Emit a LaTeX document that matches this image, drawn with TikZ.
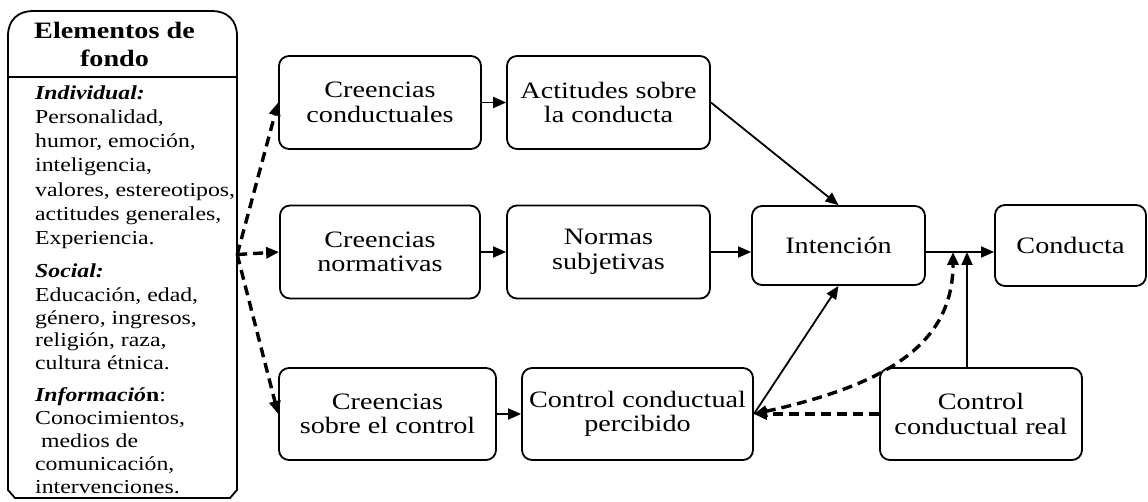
\documentclass[tikz,border=0pt]{standalone}
\usepackage{fontspec}
\setmainfont[FakeStretch=1.2]{Liberation Serif}
\usetikzlibrary{arrows.meta}
\tikzset{
  mbox/.style={draw, line width=1.8pt, rounded corners=10pt, align=center, inner sep=0pt,
    font=\fontsize{23.5}{24.5}\selectfont},
  ptext/.style={anchor=base west, inner sep=0pt, font=\fontsize{19.8}{22}\selectfont},
  tip/.style={-{Triangle[length=13pt,width=11pt]}},
  solidarrow/.style={tip, line width=1.8pt},
  dasharrow/.style={tip, line width=3.4pt, dash pattern=on 10pt off 6pt},
}
\begin{document}
\begin{tikzpicture}[x=1pt,y=-1pt]
\useasboundingbox (0,0) rectangle (1148,502);
% left panel
\node[minimum width=229pt, minimum height=487pt, inner sep=0pt] (panel) at (122.5,254.5) {};
\draw[line width=1.8pt] (15,498) -- (8,490) -- (8,36) .. controls (8,20) and (18,11) .. (33,11)
  -- (212,11) .. controls (227,11) and (237,20) .. (237,36) -- (237,490) -- (230,498) -- cycle;
\draw[line width=1.8pt] (8,77) -- (237,77);
\node[anchor=base, inner sep=0pt, font=\fontsize{23.5}{28}\selectfont\bfseries] (t1) at (114.5,39) {Elementos de};
\node[anchor=base, inner sep=0pt, font=\fontsize{23.5}{28}\selectfont\bfseries] (t2) at (114.5,67) {fondo};
\foreach \t/\yy [count=\i] in {
  {\textbf{\textit{Individual:}}}/100,
  {Personalidad,}/124,
  {humor, emoción,}/148,
  {inteligencia,}/172,
  {valores, estereotipos,}/197,
  {actitudes generales,}/221,
  {Experiencia.}/245,
  {\textbf{\textit{Social:}}}/278,
  {Educación, edad,}/302,
  {género, ingresos,}/325,
  {religión, raza,}/347,
  {cultura étnica.}/370,
  {\textbf{\textit{Informació}n}:}/401,
  {Conocimientos,}/424,
  {\ medios de}/447,
  {comunicación,}/470,
  {intervenciones.}/493}
  \node[ptext] (p\i) at (35,\yy) {\t};
% main boxes
\node[mbox, minimum width=202pt, minimum height=93pt] (cc) at (380,102.5) {Creencias\\conductuales};
\node[mbox, minimum width=203pt, minimum height=93pt] (ac) at (608.5,102.5) {Actitudes sobre\\la conducta};
\node[mbox, minimum width=200pt, minimum height=93pt] (cn) at (380,252) {Creencias\\normativas};
\node[mbox, minimum width=203pt, minimum height=93pt] (ns) at (608.5,252) {Normas\\subjetivas};
\node[mbox, minimum width=173pt, minimum height=79pt] (it) at (838.5,245.5) {Intención};
\node[mbox, minimum width=151pt, minimum height=81pt] (co) at (1070.5,245.5) {Conducta};
\node[mbox, minimum width=217pt, minimum height=92pt] (cs) at (387.5,414) {Creencias\\sobre el control};
\node[mbox, minimum width=231pt, minimum height=92pt] (cp) at (637.5,414) {Control conductual\\percibido};
\node[mbox, minimum width=202pt, minimum height=92pt] (cr) at (981,414) {Control\\conductual real};
\coordinate (j1) at (953,252);
\coordinate (j2) at (967,252);
% solid arrows
\draw[solidarrow] (cc.east) -- (ac.west);
\draw[solidarrow] (ac.east) -- (it.north);
\draw[solidarrow] (cn.east) -- (ns.west);
\draw[solidarrow] (ns.east) -- (ns.east -| it.west);
\draw[solidarrow] (it.east |- ns.east) -- (co.west |- ns.east);
\draw[solidarrow] (cs.east) -- (cp.west);
\draw[solidarrow] (cp.east) -- (it.south);
\draw[solidarrow] (cr.north -| j2) -- (j2);
% dashed arrows
\draw[dasharrow] (panel.east) -- (cc.west);
\draw[dasharrow] (panel.east) -- (cn.west);
\draw[dasharrow] (panel.east) -- (cs.west);
\draw[dasharrow] (cr.west) -- (cp.east);
\draw[dasharrow, {Triangle[length=13pt,width=11pt]}-{Triangle[length=13pt,width=11pt]}] (cp.east) .. controls (885,385) and (953,345) .. (j1);
\end{tikzpicture}
\end{document}
